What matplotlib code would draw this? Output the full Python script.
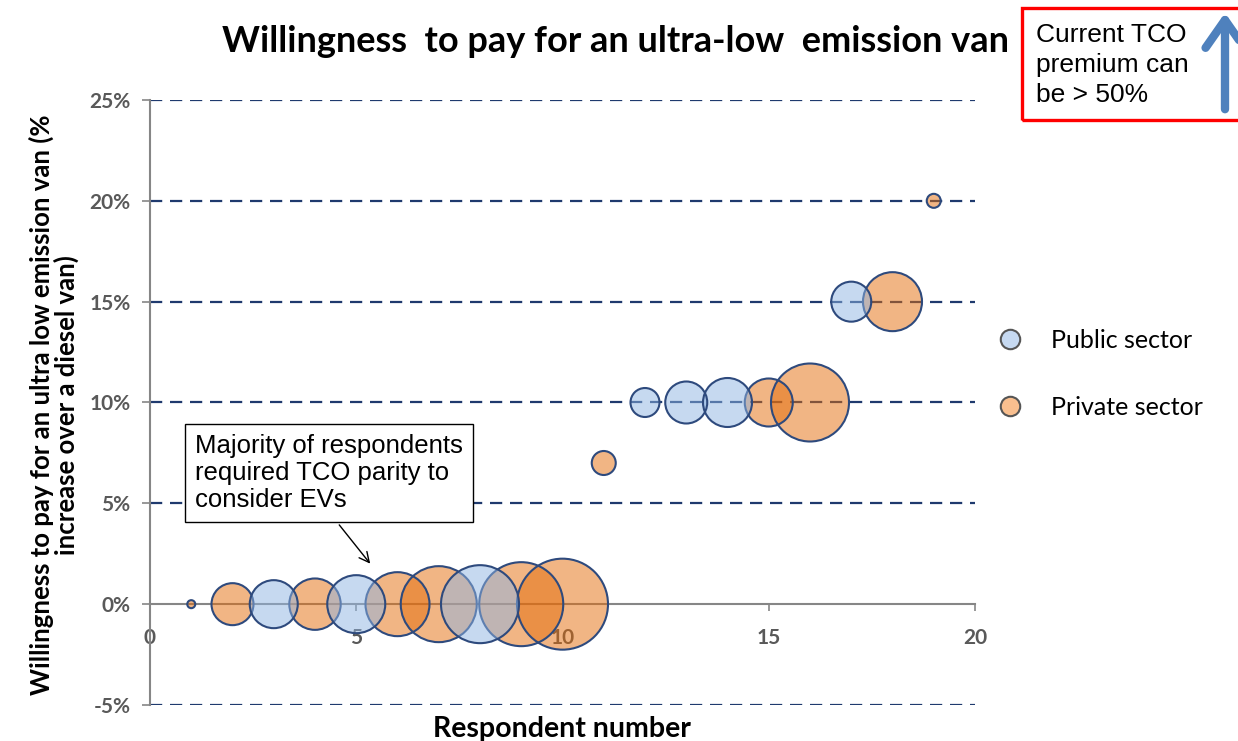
import matplotlib.pyplot as plt
from matplotlib.lines import Line2D
from matplotlib.patches import Rectangle, FancyArrowPatch

# respondents (x), willingness to pay in % (y), bubble value (fleet size proxy)
public_x = [3, 5, 8, 12, 13, 14, 17]
public_y = [0, 0, 0, 10, 10, 10, 15]
public_size = [576, 841, 1521, 210, 441, 600, 400]

private_x = [1, 2, 4, 6, 7, 9, 10, 11, 15, 16, 18, 19]
private_y = [0, 0, 0, 0, 0, 0, 0, 7, 10, 10, 15, 20]
private_size = [16, 441, 660, 1024, 1444, 1764, 2070, 144, 576, 1521, 870, 49]

y_ticks = [-5, 0, 5, 10, 15, 20, 25]
x_ticks = [0, 5, 10, 15, 20]

W, H = 1238, 741
fig = plt.figure(figsize=(W / 100, H / 100), dpi=100)
ax = fig.add_axes([150 / W, 1 - 705 / H, 825 / W, 605 / H])

# bubble area scale (px^2 -> pt^2)
k = 2.0736
edge = "#2E4A7D"
ax.scatter(private_x, private_y, s=[v * k for v in private_size], color="#E46C0A",
           alpha=0.5, edgecolors="none", zorder=3)
ax.scatter(private_x, private_y, s=[v * k for v in private_size], facecolors="none",
           edgecolors=edge, linewidths=1.5, zorder=3)
ax.scatter(public_x, public_y, s=[v * k for v in public_size], color="#8EB4E3",
           alpha=0.5, edgecolors="none", zorder=4)
ax.scatter(public_x, public_y, s=[v * k for v in public_size], facecolors="none",
           edgecolors=edge, linewidths=1.5, zorder=4)

# dashed gridlines
for yv in y_ticks:
    if yv != 0:
        ax.axhline(yv, color="#1F3A6E", lw=1.6, ls=(0, (5.5, 3.5)), zorder=1)

ax.set_xlim(0, 20)
ax.set_ylim(-5, 25)
ax.spines["top"].set_visible(False)
ax.spines["right"].set_visible(False)
ax.spines["left"].set_color("#868686")
ax.spines["left"].set_linewidth(1.5)
ax.spines["bottom"].set_position(("data", 0))
ax.spines["bottom"].set_color("#868686")
ax.spines["bottom"].set_linewidth(1.5)
ax.set_xticks(x_ticks)
ax.set_yticks(y_ticks)
ax.set_yticklabels([f"{v}%" for v in y_ticks])
ax.tick_params(axis="y", length=6, width=1.2, color="#868686", pad=8)
ax.tick_params(axis="x", length=5, width=1.2, color="#868686", pad=12)
for lab in ax.get_xticklabels() + ax.get_yticklabels():
    lab.set_fontfamily("Lato")
    lab.set_fontweight("bold")
    lab.set_fontsize(15)
    lab.set_color("#595959")

fig.text(616 / W, 1 - 42 / H, "Willingness  to pay for an ultra-low  emission van",
         ha="center", va="center", fontsize=26, fontweight="bold", family="Lato")
fig.text(54 / W, 1 - 405 / H,
         "Willingness to pay for an ultra low emission van (%\nincrease over a diesel van)",
         ha="center", va="center", rotation=90, fontsize=18.5, fontweight="bold",
         family="Lato", linespacing=1.0)
fig.text(562 / W, 1 - 729 / H, "Respondent number", ha="center", va="center",
         fontsize=20.5, fontweight="bold", family="Lato")

# legend
handles = [Line2D([], [], ls="none", marker="o", markersize=14, markerfacecolor="#C6D9F1",
                  markeredgecolor="#555555", markeredgewidth=1.5),
           Line2D([], [], ls="none", marker="o", markersize=14, markerfacecolor="#F9BF8F",
                  markeredgecolor="#555555", markeredgewidth=1.5)]
fig.legend(handles, ["Public sector", "Private sector"], loc="center left",
           bbox_to_anchor=(962 / W, 1 - 374 / H), frameon=False, labelspacing=1.75,
           handletextpad=0.65, prop={"family": "Lato", "size": 18})

# annotation box with arrow
ax.annotate("Majority of respondents\nrequired TCO parity to\nconsider EVs",
            xy=(5.38, 1.9), xytext=(1.09, 6.5), ha="left", va="center",
            fontsize=18.5, family="Liberation Sans", linespacing=1.15,
            bbox=dict(boxstyle="square,pad=0.4", fc="white", ec="black", lw=1),
            arrowprops=dict(arrowstyle="->", color="black", lw=1,
                            mutation_scale=18, relpos=(0.5, 0)),
            zorder=6)

# red call-out box top right
fig.patches.append(Rectangle((1022 / W, 1 - 120 / H), 0.2, 112 / H,
                             transform=fig.transFigure, fill=False, ec="#FF0000", lw=2.4))
fig.text(1036 / W, 1 - 65 / H, "Current TCO\npremium can\nbe > 50%", ha="left",
         va="center", fontsize=19, family="Liberation Sans", linespacing=1.3)
fig.patches.append(FancyArrowPatch((1225 / W, 1 - 112 / H), (1225 / W, 1 - 10 / H),
                                   transform=fig.transFigure, color="#4F81BD", lw=6,
                                   arrowstyle="->,head_length=0.5,head_width=0.35",
                                   mutation_scale=40))

fig.savefig("out.png", dpi=100)
